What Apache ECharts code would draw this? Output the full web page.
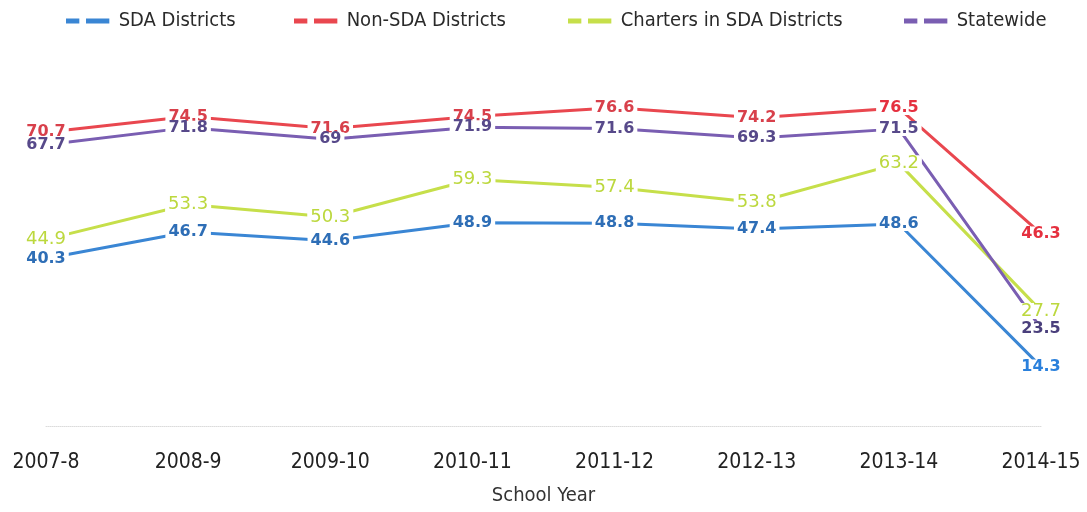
<!DOCTYPE html>
<html>
<head>
<meta charset="utf-8">
<script src="https://cdn.jsdelivr.net/npm/echarts@6/dist/echarts.min.js"></script>
<style>
  html, body { margin: 0; padding: 0; background: #fff; }
  #chart { width: 1087px; height: 512px; }
</style>
</head>
<body>
<div id="chart"></div>
<script>
// School years on the category axis
const years = ['2007-8', '2008-9', '2009-10', '2010-11', '2011-12', '2012-13', '2013-14', '2014-15'];

// Percentages by group
const sdaDistricts = [40.3, 46.7, 44.6, 48.9, 48.8, 47.4, 48.6, 14.3];
const nonSdaDistricts = [70.7, 74.5, 71.6, 74.5, 76.6, 74.2, 76.5, 46.3];
const chartersInSda = [44.9, 53.3, 50.3, 59.3, 57.4, 53.8, 63.2, 27.7];
const statewide = [67.7, 71.8, 69, 71.9, 71.6, 69.3, 71.5, 23.5];

const seriesNames = ['SDA Districts', 'Non-SDA Districts', 'Charters in SDA Districts', 'Statewide'];

const narrowFont = '"Liberation Sans Narrow", "DejaVu Sans Condensed", "Open Sans", sans-serif';
const labelFont = '"DejaVu Sans", Verdana, sans-serif';

// line colour, label colour, emphasised label colour, weight, size
const styles = [
  { line: '#3a86d4', label: '#2e6eb6', strong: '#2a80dc', weight: 'bold', size: 16 },
  { line: '#e9474f', label: '#d8404b', strong: '#e5303f', weight: 'bold', size: 16 },
  { line: '#c6df4a', label: '#bcd83e', strong: '#bcd83e', weight: 'normal', size: 18 },
  { line: '#7a5eb2', label: '#57498a', strong: '#4a3f7c', weight: 'bold', size: 16 }
];

const dashIcon = 'path://M0,0H16V6H0Z M24,0H52V6H24Z';

function makeSeries(name, values, st, strongIdx) {
  return {
    name: name,
    type: 'line',
    data: values.map(function (v, i) {
      const item = { value: v };
      if (strongIdx.indexOf(i) >= 0) {
        item.label = { color: st.strong, fontWeight: 'bold' };
      }
      return item;
    }),
    symbol: 'circle',
    symbolSize: 0,
    itemStyle: { color: st.line },
    lineStyle: { color: st.line, width: 3 },
    label: {
      show: true,
      position: 'inside',
      color: st.label,
      fontFamily: labelFont,
      fontSize: st.size,
      fontWeight: st.weight,
      lineHeight: st.size - 2,
      backgroundColor: '#fff',
      padding: [0, 3]
    },
    emphasis: { disabled: true },
    animation: false
  };
}

const legendLefts = [61, 289, 563, 899];

const chart = echarts.init(document.getElementById('chart'));
chart.setOption({
  backgroundColor: '#fff',
  legend: seriesNames.map(function (n, i) {
    return {
      data: [{ name: n, icon: dashIcon }],
      left: legendLefts[i],
      top: 6,
      itemWidth: 52,
      itemHeight: 5,
      textStyle: { fontFamily: narrowFont, fontSize: 20, color: '#2a2a2a' },
      selectedMode: false
    };
  }),
  grid: { left: 46, right: 46, top: 52, bottom: 86, outerBoundsMode: 'none', containLabel: false },
  xAxis: {
    type: 'category',
    data: years,
    boundaryGap: false,
    axisLine: { show: true, lineStyle: { color: '#dcdcdc', type: 'dotted', width: 1 } },
    axisTick: { show: false },
    axisLabel: { fontFamily: narrowFont, fontSize: 21, color: '#222', margin: 26 },
    name: 'School Year',
    nameLocation: 'middle',
    nameGap: 60,
    nameTextStyle: { fontFamily: narrowFont, fontSize: 20, color: '#333' }
  },
  yAxis: {
    type: 'value',
    min: 0,
    max: 90,
    show: false
  },
  series: [
    makeSeries(seriesNames[0], sdaDistricts, styles[0], [7]),
    makeSeries(seriesNames[1], nonSdaDistricts, styles[1], [6, 7]),
    makeSeries(seriesNames[2], chartersInSda, styles[2], []),
    makeSeries(seriesNames[3], statewide, styles[3], [7])
  ]
});
</script>
</body>
</html>
